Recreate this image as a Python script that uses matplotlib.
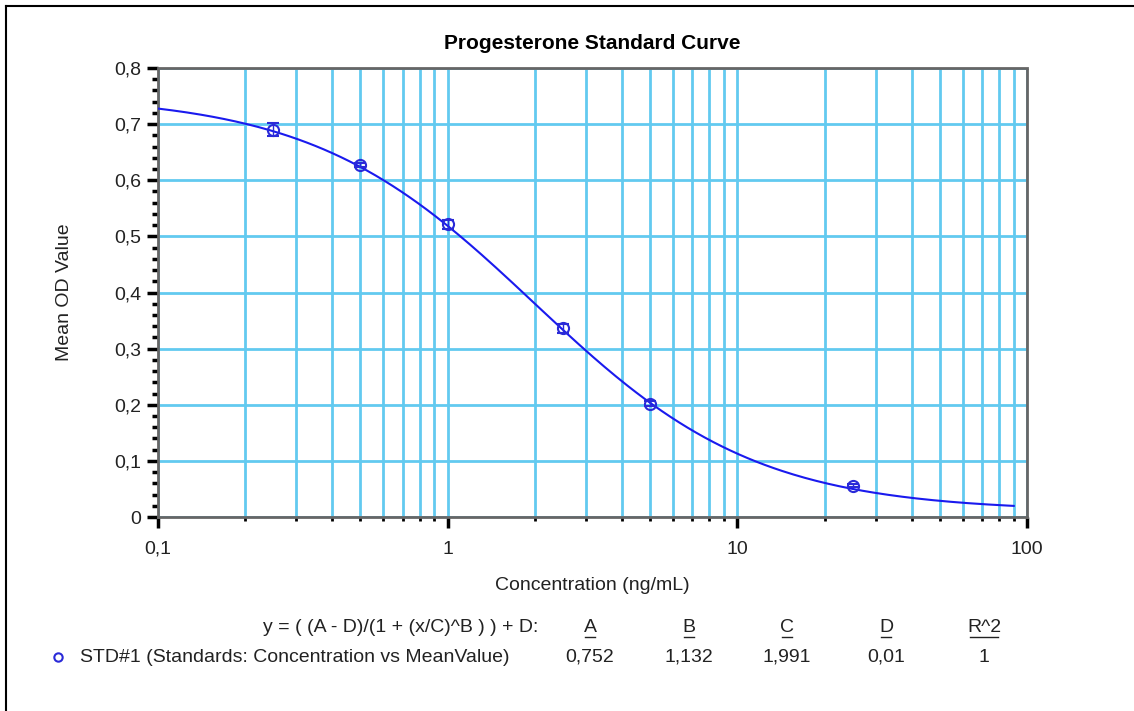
import numpy as np
import matplotlib
matplotlib.use('Agg')
import matplotlib.pyplot as plt
from matplotlib.lines import Line2D
from matplotlib.ticker import FixedLocator, FixedFormatter, LogLocator, NullFormatter

plt.rcParams['font.family'] = ['Liberation Sans', 'DejaVu Sans']

# standards
conc = [0.25, 0.5, 1, 2.5, 5, 25]
mean_od = [0.690, 0.627, 0.522, 0.336, 0.202, 0.056]
od_err = [0.012, 0.004, 0.008, 0.008, 0.005, 0.003]

# 4PL fit parameters shown under the chart
param_names = ['A', 'B', 'C', 'D', 'R^2']
param_labels = ['0,752', '1,132', '1,991', '0,01', '1']
A, B, C, D = 0.752, 1.132, 1.991, 0.01

y_ticks = [0, 0.1, 0.2, 0.3, 0.4, 0.5, 0.6, 0.7, 0.8]
y_ticklabels = ['0', '0,1', '0,2', '0,3', '0,4', '0,5', '0,6', '0,7', '0,8']
x_ticks = [0.1, 1, 10, 100]
x_ticklabels = ['0,1', '1', '10', '100']

W, H = 1134, 711
fig = plt.figure(figsize=(W / 100, H / 100), dpi=100)
ax = fig.add_axes([158 / W, 1 - 517 / H, (1027 - 158) / W, (517 - 68) / H])

ax.set_xscale('log')
ax.set_xlim(0.1, 100)
ax.set_ylim(0, 0.8)

grid_col = '#62caf0'
ax.xaxis.set_major_locator(FixedLocator(x_ticks))
ax.xaxis.set_major_formatter(FixedFormatter(x_ticklabels))
ax.xaxis.set_minor_locator(LogLocator(base=10, subs=np.arange(2, 10)))
ax.xaxis.set_minor_formatter(NullFormatter())
ax.yaxis.set_major_locator(FixedLocator(y_ticks))
ax.yaxis.set_major_formatter(FixedFormatter(y_ticklabels))
ax.yaxis.set_minor_locator(FixedLocator(np.arange(0, 0.8, 0.02)))

ax.grid(True, which='both', axis='x', color=grid_col, lw=2)
ax.grid(True, which='major', axis='y', color=grid_col, lw=2)
ax.set_axisbelow(True)

ax.tick_params(which='major', length=8, width=2.5, color='black',
               labelsize=14, pad=4, labelcolor='#222222')
ax.tick_params(axis='x', which='major', pad=9)
ax.tick_params(which='minor', length=4, width=2.5, color='black')
ax.tick_params(axis='x', which='minor', length=3, width=2)

for s in ax.spines.values():
    s.set_color('#666666')
    s.set_linestyle((0, (1, 1)))
    s.set_linewidth(2)

# fitted curve
xc = np.logspace(-1, np.log10(90), 300)
yc = (A - D) / (1 + (xc / C) ** B) + D
ax.plot(xc, yc, color='#1a1aee', lw=1.5, zorder=3)

ax.errorbar(conc, mean_od, yerr=od_err, fmt='o', ms=8, mfc='none',
            mec='#2a2ad8', mew=1.5, ecolor='#2a2ad8', elinewidth=1,
            capsize=4, capthick=1.5, zorder=4)

ax.set_title('Progesterone Standard Curve', fontsize=15,
             fontweight='bold', pad=14)
ax.set_xlabel('Concentration (ng/mL)', fontsize=14, labelpad=14,
              color='#222222')
ax.set_ylabel('Mean OD Value', fontsize=14, labelpad=30, color='#222222')

# figure frame
fig.add_artist(Line2D([6 / W, 6 / W], [0, 1 - 6 / H], color='black', lw=1.5))
fig.add_artist(Line2D([6 / W, 1], [1 - 6 / H, 1 - 6 / H], color='black', lw=1.5))

# equation / legend area
fs = 14
fig.text(538 / W, 1 - 627 / H, 'y = ( (A - D)/(1 + (x/C)^B ) ) + D:',
         ha='right', va='center', fontsize=fs, color='#222222')
col_x = [590, 689, 787, 886, 984]
for cx, name, val in zip(col_x, param_names, param_labels):
    fig.text(cx / W, 1 - 627 / H, name, ha='center', va='center',
             fontsize=fs, color='#222222')
    half = 5 + 4.5 * (len(name) - 1)
    fig.add_artist(Line2D([(cx - half) / W, (cx + half) / W],
                          [1 - 637 / H, 1 - 637 / H], color='#222222', lw=1))
    fig.text(cx / W, 1 - 657 / H, val, ha='center', va='center',
             fontsize=fs, color='#222222')

fig.add_artist(Line2D([58 / W], [1 - 657 / H], marker='o', ms=6, mfc='none',
                      mec='#2a2ad8', mew=1.5, ls='none'))
fig.text(80 / W, 1 - 657 / H, 'STD#1 (Standards: Concentration vs MeanValue)',
         ha='left', va='center', fontsize=fs, color='#222222')

fig.savefig('out.png', dpi=100)
